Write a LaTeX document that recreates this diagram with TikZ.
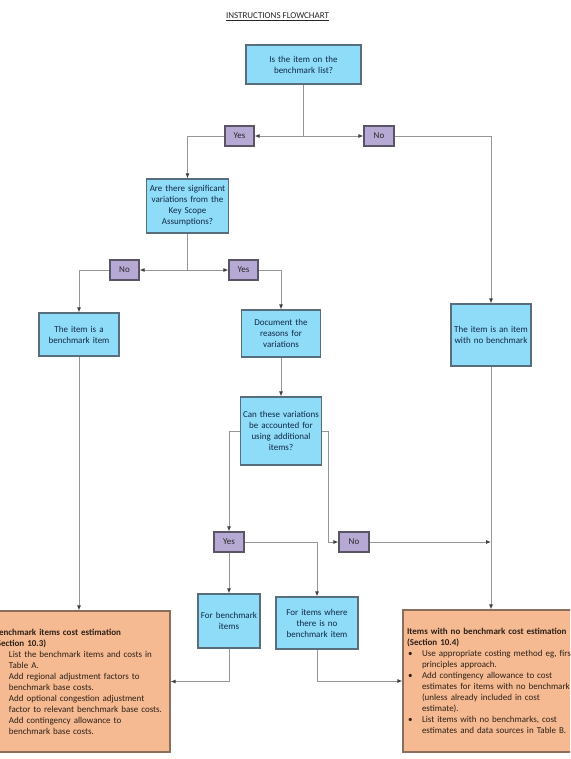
\documentclass[tikz,border=0pt]{standalone}
\usepackage{fontspec}
\setmainfont{Carlito}
\usetikzlibrary{arrows.meta,positioning}
\definecolor{qblue}{RGB}{142,220,247}
\definecolor{boxedge}{RGB}{88,110,125}
\definecolor{qtext}{RGB}{18,40,72}
\definecolor{labfill}{RGB}{182,170,212}
\definecolor{labedge}{RGB}{90,85,100}
\definecolor{estfill}{RGB}{245,186,146}
\definecolor{estedge}{RGB}{140,110,92}
\definecolor{esttext}{RGB}{45,32,24}
\definecolor{linegray}{RGB}{150,150,150}
\newcommand{\fs}{\fontsize{9}{11}\selectfont}
\newlength{\bind}\setlength{\bind}{15pt}
\newcommand{\bl}[1]{\mbox{\makebox[\bind][l]{\hspace{1pt}\textbullet}#1}}
\newcommand{\cl}[1]{\mbox{\hspace*{\bind}#1}}
\tikzset{
  qbox/.style={draw=boxedge, fill=qblue, line width=1.2pt, text=qtext, align=center, font=\fs, inner sep=2pt},
  lab/.style={draw=labedge, fill=labfill, line width=1.2pt, minimum width=29pt, minimum height=20pt, font=\fs, text=black!85, inner sep=0pt},
  est/.style={draw=estedge, fill=estfill, line width=1.2pt, align=left, font=\fs, text=esttext, inner sep=4pt},
  conn/.style={draw=linegray, line width=0.9pt, -{Latex[length=5pt,width=4pt,color=black!75]}},
  plain/.style={draw=linegray, line width=0.9pt}
}
\begin{document}
\begin{tikzpicture}[x=1pt,y=-1pt]
\useasboundingbox (0,0) rectangle (570,759);
\clip (0,0) rectangle (570,759);
\fill[white] (0,0) rectangle (570,759);

\node[font=\fs, text=black!85] (title) at (277.5,17) {\underline{INSTRUCTIONS FLOWCHART}};

\node[qbox, text width=111pt, minimum height=39pt] (A) at (303.5,64.5) {Is the item on the\\benchmark list?};
\node[lab] (Y1) at (239.5,136) {Yes};
\node[lab, minimum width=30pt] (N1) at (379,136) {No};
\coordinate (j1) at (303.5,136);

\node[qbox, text width=78pt, minimum height=54pt] (B) at (187.5,206) {Are there significant\\variations from the\\Key Scope\\Assumptions?};
\node[lab] (N2) at (124.5,270) {No};
\node[lab] (Y2) at (243.5,270) {Yes};
\coordinate (j2) at (187.5,270);

\node[qbox, text width=76pt, minimum height=43pt] (C) at (79,334.5) {The item is a\\benchmark item};
\node[qbox, text width=75pt, minimum height=47pt] (D) at (281,333.5) {Document the\\reasons for\\variations};
\node[qbox, text width=76pt, minimum height=62pt] (E) at (491,335) {The item is an item\\with no benchmark};

\node[qbox, text width=77pt, minimum height=68pt] (F) at (281,431) {Can these variations\\be accounted for\\using additional\\items?};
\node[lab, minimum width=30pt] (Y3) at (229,542) {Yes};
\node[lab, minimum width=30pt] (N3) at (354,542) {No};

\node[qbox, text width=58pt, minimum height=54pt] (G) at (229,621) {For benchmark\\items};
\node[qbox, text width=78pt, minimum height=52pt] (H) at (317,623) {For items where\\there is no\\benchmark item};

\node[est, text width=172pt, minimum height=141pt] (I) at (80,681.5) {%
\textbf{Benchmark items cost estimation}\\
\textbf{(Section 10.3)}\\
\bl{List the benchmark items and costs in}\\
\cl{Table A.}\\
\bl{Add regional adjustment factors to}\\
\cl{benchmark base costs.}\\
\bl{Add optional congestion adjustment}\\
\cl{factor to relevant benchmark base costs.}\\
\bl{Add contingency allowance to}\\
\cl{benchmark base costs.}};

\node[est, text width=189pt, minimum height=142pt] (J) at (501.5,681) {%
\textbf{Items with no benchmark cost estimation}\\
\textbf{(Section 10.4)}\\
\bl{Use appropriate costing method eg, first}\\
\cl{principles approach.}\\
\bl{Add contingency allowance to cost}\\
\cl{estimates for items with no benchmark}\\
\cl{(unless already included in cost}\\
\cl{estimate).}\\
\bl{List items with no benchmarks, cost}\\
\cl{estimates and data sources in Table B.}};

% connectors
\draw[plain] (A.south) -- (j1);
\draw[conn] (j1) -- (Y1.east);
\draw[conn] (j1) -- (N1.west);
\draw[conn] (Y1.west) -| (B.north);
\draw[conn] (N1.east) -| (E.north);
\draw[plain] (B.south) -- (j2);
\draw[conn] (j2) -- (N2.east);
\draw[conn] (j2) -- (Y2.west);
\draw[conn] (N2.west) -| (C.north);
\draw[conn] (Y2.east) -| (D.north);
\draw[conn] (D.south) -- (F.north);
\draw[conn] (F.west) -| (Y3.north);
\draw[conn] (F.east) -- ++(6,0) |- (N3.west);
\draw[conn] (E.south) -- (E.south |- J.north);
\draw[conn] (N3.east) -- (N3.east -| E.south);
\draw[conn] (Y3.south) -- (G.north);
\draw[conn] (Y3.east) -| (H.north);
\draw[conn] (C.south) -- (C.south |- I.north);
\draw[conn] (G.south) |- (I.east);
\draw[conn] (H.south) |- (J.west);
\end{tikzpicture}
\end{document}
